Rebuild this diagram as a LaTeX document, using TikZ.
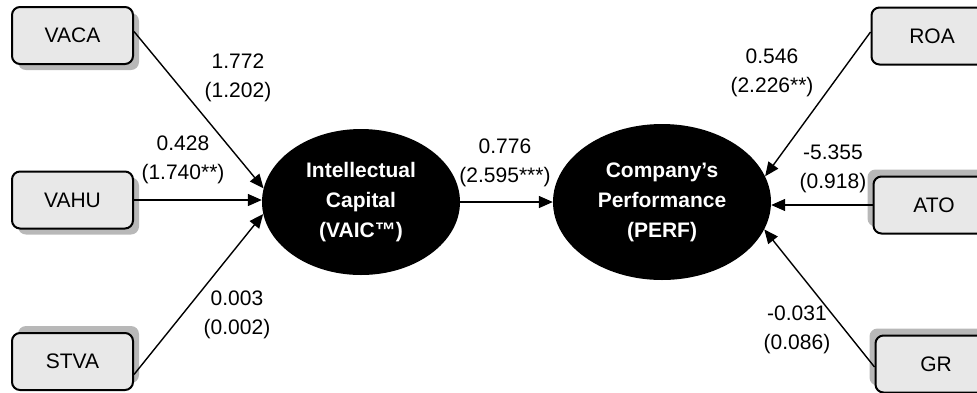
\documentclass[tikz,border=0pt]{standalone}
\usepackage{fontspec}
\setmainfont{Liberation Sans}
\usetikzlibrary{arrows.meta,shadows,shapes.geometric}

\begin{document}
\begin{tikzpicture}[x=1pt,y=-1pt,
  every node/.style={font=\fontsize{21}{29}\selectfont},
  measure/.style={draw,line width=2pt,rounded corners=8pt,fill=black!9,
    minimum width=121pt,minimum height=57pt,inner sep=0pt},
  sh dr/.style={drop shadow={shadow xshift=6pt,shadow yshift=-6pt,fill=black!28,opacity=1}},
  sh ur/.style={drop shadow={shadow xshift=6pt,shadow yshift=7pt,fill=black!28,opacity=1}},
  sh ul/.style={drop shadow={shadow xshift=-6pt,shadow yshift=7pt,fill=black!28,opacity=1}},
  latent/.style={ellipse,fill=black,text=white,align=center,inner sep=0pt,
    font=\fontsize{21}{30}\selectfont\bfseries},
  coef/.style={align=center,inner sep=1pt},
  path/.style={line width=1.4pt,-{Triangle[length=14pt,width=12pt]}}]
\useasboundingbox (0,0) rectangle (977,392);

% latent variables
\node[latent,minimum width=198pt,minimum height=146pt] (ic) at (361,202)
  {Intellectual\\Capital\\(VAIC™)};
\node[latent,minimum width=218pt,minimum height=156pt] (perf) at (662,202)
  {Company’s\\Performance\\(PERF)};

% indicators
\node[measure,sh dr] (vaca) at (72.5,35.5) {VACA};
\node[measure,sh dr] (vahu) at (72.5,200) {VAHU};
\node[measure,sh ur] (stva) at (72.5,361.5) {STVA};
\node[measure] (roa) at (932,36) {ROA};
\node[measure,sh ul] (ato) at (934,205) {ATO};
\node[measure,sh ul] (gr) at (936,364) {GR};

% paths
\draw[path] ([yshift=4pt]vaca.east) -- (ic.172);
\draw[path] (vahu.east) -- (vahu.east -| ic.west);
\draw[path] ([yshift=-13pt]stva.east) -- (ic.187);
\draw[path] (ic.east) -- (perf.west);
\draw[path] ([yshift=4pt]roa.west) -- (perf.14);
\draw[path] (ato.west) -- (ato.west -| perf.east);
\draw[path] ([yshift=-3pt]gr.west) -- (perf.-15);

% coefficients
\node[coef] (c1) at (238,78) {1.772\\(1.202)};
\node[coef] (c2) at (183,160) {0.428\\(1.740**)};
\node[coef] (c3) at (237,315) {0.003\\(0.002)};
\node[coef] (c4) at (505,163) {0.776\\(2.595***)};
\node[coef] (c5) at (772,73) {0.546\\(2.226**)};
\node[coef] (c6) at (833,169) {-5.355\\(0.918)};
\node[coef] (c7) at (797,330) {-0.031\\(0.086)};
\end{tikzpicture}
\end{document}
